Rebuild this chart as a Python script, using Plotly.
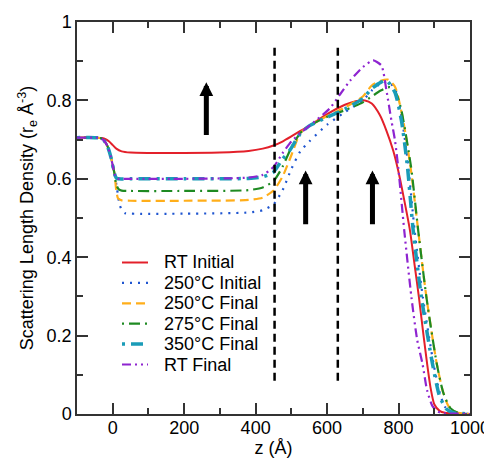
import plotly.graph_objects as go

# ---- data ----
z_red = [-100, -50, -30, -20, -10, 0, 10, 25, 50, 100, 200, 300, 380, 420, 450, 475, 500, 525, 550,
         600, 650, 680, 706, 725, 748, 766, 785, 799, 815, 832, 845, 857, 870, 880, 890, 900, 915, 930, 960, 1000]
y_red = [0.705, 0.705, 0.704, 0.701, 0.695, 0.686, 0.677, 0.670, 0.667, 0.666, 0.666, 0.667, 0.671, 0.677, 0.685, 0.695, 0.708, 0.722, 0.735,
         0.765, 0.789, 0.798, 0.800, 0.792, 0.762, 0.723, 0.672, 0.621, 0.550, 0.468, 0.380, 0.298, 0.200, 0.128, 0.065, 0.025, 0.008, 0.003, 0.001, 0.0]

z_blue = [-100, -50, -35, -25, -15, -5, 5, 12, 19, 27, 35, 50, 200, 380, 420, 450, 475, 500, 525, 550,
          600, 650, 700, 725, 750, 770, 790, 808, 825, 845, 868, 898, 915, 930, 950, 975, 1000]
y_blue = [0.705, 0.705, 0.704, 0.698, 0.684, 0.655, 0.613, 0.575, 0.535, 0.517, 0.512, 0.511, 0.511, 0.514, 0.520, 0.535, 0.570, 0.625, 0.670, 0.695,
          0.738, 0.770, 0.800, 0.825, 0.843, 0.848, 0.830, 0.760, 0.650, 0.468, 0.298, 0.128, 0.055, 0.018, 0.005, 0.001, 0.0]

z_orange = [-100, -50, -35, -25, -15, -5, 5, 10, 15, 25, 50, 200, 380, 420, 450, 475, 500, 525, 550,
            600, 650, 700, 725, 750, 770, 790, 813, 835, 855, 878, 907, 925, 940, 960, 980, 1000]
y_orange = [0.705, 0.705, 0.704, 0.698, 0.684, 0.655, 0.613, 0.570, 0.550, 0.545, 0.544, 0.544, 0.546, 0.552, 0.570, 0.605, 0.660, 0.717, 0.735,
            0.760, 0.782, 0.810, 0.838, 0.850, 0.853, 0.835, 0.749, 0.620, 0.468, 0.298, 0.128, 0.055, 0.020, 0.005, 0.001, 0.0]

z_green = [-100, -50, -35, -25, -15, -5, 5, 10, 17, 25, 50, 200, 380, 420, 450, 475, 500, 525, 550,
           600, 650, 700, 725, 750, 776, 792, 806, 835, 855, 878, 907, 925, 945, 965, 985, 1000]
y_green = [0.705, 0.705, 0.704, 0.698, 0.684, 0.655, 0.613, 0.585, 0.573, 0.570, 0.569, 0.569, 0.571, 0.578, 0.594, 0.630, 0.680, 0.717, 0.735,
           0.758, 0.775, 0.795, 0.810, 0.825, 0.834, 0.820, 0.783, 0.630, 0.468, 0.298, 0.128, 0.055, 0.015, 0.004, 0.001, 0.0]

z_cyan = [-100, -50, -35, -25, -15, -5, 5, 10, 15, 50, 200, 380, 420, 450, 475, 495, 525, 550,
          600, 650, 700, 725, 750, 766, 790, 808, 825, 841, 864, 895, 915, 935, 955, 980, 1000]
y_cyan = [0.705, 0.705, 0.704, 0.698, 0.684, 0.655, 0.613, 0.602, 0.600, 0.600, 0.600, 0.601, 0.605, 0.617, 0.650, 0.672, 0.715, 0.735,
          0.757, 0.778, 0.805, 0.830, 0.846, 0.851, 0.820, 0.749, 0.630, 0.468, 0.298, 0.128, 0.045, 0.012, 0.003, 0.001, 0.0]

z_purple = [-100, -50, -35, -25, -15, -5, 5, 10, 15, 50, 200, 380, 420, 450, 475, 500, 528, 550,
            607, 636, 664, 700, 729, 752, 766, 780, 790, 799, 816, 836, 852, 867, 880, 895, 910, 930, 960, 1000]
y_purple = [0.705, 0.705, 0.704, 0.698, 0.684, 0.655, 0.613, 0.602, 0.600, 0.600, 0.600, 0.603, 0.610, 0.630, 0.665, 0.695, 0.719, 0.735,
            0.779, 0.815, 0.850, 0.885, 0.902, 0.889, 0.826, 0.749, 0.698, 0.630, 0.468, 0.298, 0.190, 0.128, 0.060, 0.020, 0.006, 0.002, 0.001, 0.0]

series_names = ["RT Initial", "250°C Initial", "250°C Final", "275°C Final", "350°C Final", "RT Final"]
series_z = [z_red, z_blue, z_orange, z_green, z_cyan, z_purple]
series_y = [y_red, y_blue, y_orange, y_green, y_cyan, y_purple]

divider_z = [453, 630]
divider_y = [0.085, 0.945]

arrow_z = [262, 540, 727]
arrow_tip = [0.846, 0.621, 0.621]
arrow_tail = [0.708, 0.48, 0.48]

# ---- styles / layout constants ----
PAGE_OFF = 8                      # default body margin of the html page
W, H = 492 - PAGE_OFF, 463 - PAGE_OFF
ML, MR, MT, MB = 77 - PAGE_OFF, 22, 22 - PAGE_OFF, 49
PW, PH = W - ML - MR, H - MT - MB

colors = ["#e3202a", "#1f55d0", "#ffae1a", "#1e8a22", "#1a9cb8", "#8e24d0"]
dashes = ["solid", "2px,6px", "9px,5px", "2px,5px,11px,5px", "3px,6px,12px,6px", "9px,4px,2px,4px,2px,4px"]
widths = [2, 2.2, 2.2, 2.2, 3.5, 2.2]

font_family = "Liberation Sans, Arial, Helvetica, sans-serif"
FS = 18

fig = go.Figure()
for name, zs, ys, c, d, w in zip(series_names, series_z, series_y, colors, dashes, widths):
    fig.add_trace(go.Scatter(x=zs, y=ys, mode="lines", name=name, showlegend=False,
                             line=dict(color=c, dash=d, width=w, shape="spline", smoothing=0.6)))

for zd in divider_z:
    fig.add_trace(go.Scatter(x=[zd, zd], y=divider_y, mode="lines", showlegend=False,
                             line=dict(color="black", width=2.5, dash="8px,5px"), hoverinfo="skip"))

for az, tip, tail in zip(arrow_z, arrow_tip, arrow_tail):
    fig.add_annotation(x=az, y=tip, ax=az, ay=tail, xref="x", yref="y", axref="x", ayref="y",
                       text="", showarrow=True, arrowhead=2, arrowsize=0.55, arrowwidth=5,
                       arrowcolor="black", standoff=0)

# ---- hand-drawn legend (page pixel layout converted to paper coords) ----
leg_line_x0, leg_line_x1, leg_text_x = 122, 148, 162
leg_row0, leg_step = 262.5, 20.4
def px_x(p):
    return (p - PAGE_OFF - ML) / PW
def px_y(p):
    return (H - MB - (p - PAGE_OFF)) / PH
for i, (name, c, d, w) in enumerate(zip(series_names, colors, dashes, widths)):
    yrow = leg_row0 + i * leg_step
    fig.add_shape(type="line", xref="paper", yref="paper",
                  x0=px_x(leg_line_x0), x1=px_x(leg_line_x1), y0=px_y(yrow), y1=px_y(yrow),
                  line=dict(color=c, dash=d, width=w))
    fig.add_annotation(x=px_x(leg_text_x), y=px_y(yrow), xref="paper", yref="paper",
                       text=name, showarrow=False, xanchor="left", yanchor="middle",
                       font=dict(family=font_family, size=FS, color="black"))

axis_common = dict(showline=True, linecolor="#333333", linewidth=1.5, mirror="ticks",
                   ticks="inside", ticklen=11, tickwidth=1.5, tickcolor="#333333",
                   showgrid=False, zeroline=False, automargin=False,
                   tickfont=dict(family=font_family, size=FS, color="black"))

fig.update_layout(
    width=W, height=H,
    margin=dict(l=ML, r=MR, t=MT, b=MB),
    paper_bgcolor="white", plot_bgcolor="white",
    font=dict(family=font_family, size=FS, color="black"),
    xaxis=dict(range=[-100, 1000], tick0=0, dtick=200, ticklabelstandoff=-3,
               minor=dict(dtick=100, tick0=0, ticks="inside", ticklen=6, tickcolor="#333333"),
               title=dict(text="z (Å)", font=dict(size=FS), standoff=2), **axis_common),
    yaxis=dict(range=[0, 1], tick0=0, dtick=0.2,
               minor=dict(dtick=0.1, tick0=0, ticks="inside", ticklen=6, tickcolor="#333333"),
               title=dict(text="Scattering Length Density (r<sub>e</sub> Å<sup>-3</sup>)", font=dict(size=FS), standoff=8),
               **axis_common),
    showlegend=False,
)

fig.write_html("out.html")
